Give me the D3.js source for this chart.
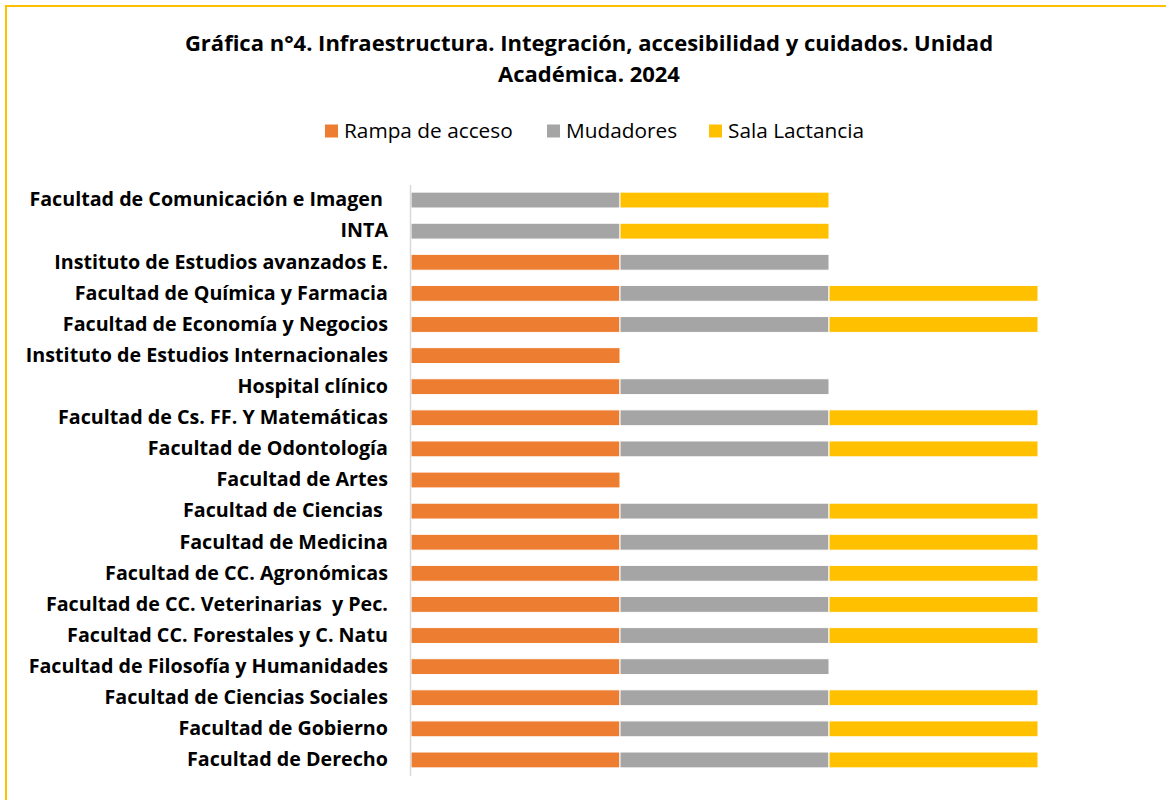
<!DOCTYPE html>
<html><head><meta charset="utf-8">
<script src="https://cdn.jsdelivr.net/npm/d3@7"></script>
<style>body{margin:0;background:#fff}svg{display:block}text{font-family:"Open Sans",sans-serif}</style>
</head><body><svg id="c" width="1166" height="800"></svg>
<script>
const categories = [
  "Facultad de Comunicación e Imagen ",
  "INTA",
  "Instituto de Estudios avanzados E.",
  "Facultad de Química y Farmacia",
  "Facultad de Economía y Negocios",
  "Instituto de Estudios Internacionales",
  "Hospital clínico",
  "Facultad de Cs. FF. Y Matemáticas",
  "Facultad de Odontología",
  "Facultad de Artes",
  "Facultad de Ciencias ",
  "Facultad de Medicina",
  "Facultad de CC. Agronómicas",
  "Facultad de CC. Veterinarias  y Pec.",
  "Facultad CC. Forestales y C. Natu",
  "Facultad de Filosofía y Humanidades",
  "Facultad de Ciencias Sociales",
  "Facultad de Gobierno",
  "Facultad de Derecho"
];
const rampa      = [0,0,1,1,1,1,1,1,1,1,1,1,1,1,1,1,1,1,1];
const mudadores  = [1,1,1,1,1,0,1,1,1,0,1,1,1,1,1,1,1,1,1];
const lactancia  = [1,1,0,1,1,0,0,1,1,0,1,1,1,1,1,0,1,1,1];
const seriesNames = ["Rampa de acceso","Mudadores","Sala Lactancia"];
const colors = ["#ED7D31","#A5A5A5","#FFC000"];
const titleLines = ["Gráfica n°4. Infraestructura. Integración, accesibilidad y cuidados. Unidad","Académica. 2024"];

const svg = d3.select("#c");
svg.append("rect").attr("x",6).attr("y",6).attr("width",1200).attr("height",900)
  .attr("fill","none").attr("stroke","#FFC000").attr("stroke-width",2);

svg.selectAll("text.title").data(titleLines).join("text").attr("class","title")
  .attr("x",589).attr("y",(d,i)=>51+i*31).attr("text-anchor","middle")
  .attr("font-weight","bold").attr("font-size",22).attr("fill","#000").text(d=>d);

const rows = categories.map((c,i)=>({cat:c,"Rampa de acceso":rampa[i],"Mudadores":mudadores[i],"Sala Lactancia":lactancia[i]}));
const stack = d3.stack().keys(seriesNames)(rows);

const x = d3.scaleLinear().domain([0,3]).range([411,1038]);
const y = d3.scaleBand().domain(categories).range([184.5,775.5]).paddingInner(0.49).paddingOuter(0.245);

svg.append("g").selectAll("g").data(stack).join("g").attr("fill",(d,i)=>colors[i])
  .selectAll("rect").data(d=>d.filter(v=>v[1]-v[0]>0)).join("rect")
  .attr("x",d=>x(d[0])).attr("width",d=>x(d[1])-x(d[0]))
  .attr("y",d=>y(d.data.cat)).attr("height",y.bandwidth())
  .attr("stroke","#fff").attr("stroke-width",1);

const yAxis = svg.append("g").attr("transform","translate(410,0)")
  .call(d3.axisLeft(y).tickSize(0).tickPadding(22));
yAxis.select(".domain").attr("stroke","#D9D9D9").attr("stroke-width",1.5);
yAxis.selectAll("text").attr("font-family","'Open Sans',sans-serif").attr("font-size",19.7)
  .attr("font-weight","bold").attr("fill","#000").style("white-space","pre");

const lg = svg.append("g");
const lx = [325,547,709];
seriesNames.forEach((s,i)=>{
  lg.append("rect").attr("x",lx[i]).attr("y",124.5).attr("width",13).attr("height",13).attr("fill",colors[i]);
  lg.append("text").attr("x",lx[i]+19).attr("y",138).attr("font-size",20.8).attr("fill","#000").text(s);
});
</script></body></html>
